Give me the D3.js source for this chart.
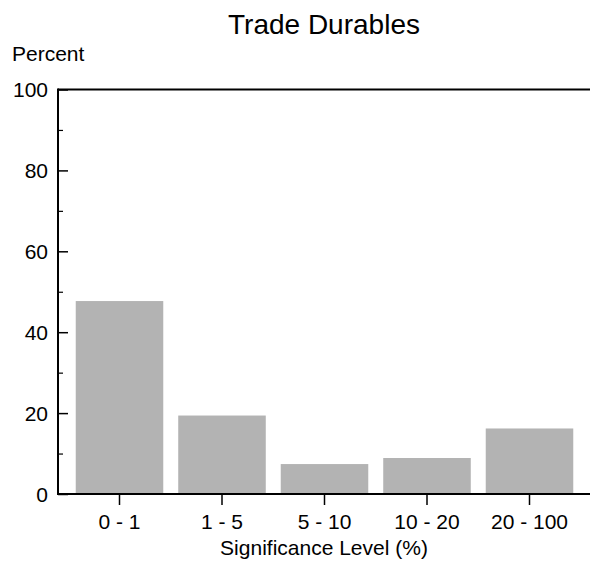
<!DOCTYPE html>
<html><head><meta charset="utf-8">
<script src="https://cdn.jsdelivr.net/npm/d3@7"></script>
<style>body{margin:0;background:#fff}svg{display:block}text{font-family:"Liberation Sans",Arial,sans-serif;fill:#000}</style>
</head><body>
<svg id="c" width="590" height="567"></svg>
<script>
const categories = ["0 - 1","1 - 5","5 - 10","10 - 20","20 - 100"];
const values = [47.7, 19.4, 7.4, 8.9, 16.2];
const majorTicks = [0,20,40,60,80,100];
const minorTicks = [10,30,50,70,90];
const title = "Trade Durables";
const yTitle = "Percent";
const xTitle = "Significance Level (%)";

const svg = d3.select("#c");
const mLeft = 58, mRight = 590, mTop = 89.5, mBottom = 494;
const y = d3.scaleLinear().domain([0,100]).range([mBottom, mTop]);
const x = d3.scaleBand().domain(categories).range([68.25, 580.75]).paddingInner(0.146).paddingOuter(0.073);

svg.append("g").selectAll("rect").data(values).join("rect")
  .attr("x",(d,i)=>x(categories[i])).attr("width",x.bandwidth())
  .attr("y",d=>y(d)).attr("height",d=>mBottom-y(d)).attr("fill","#b3b3b3");

const ya = svg.append("g").attr("transform",`translate(${mLeft},0)`)
  .call(d3.axisLeft(y).tickValues(majorTicks).tickSize(-10).tickPadding(10).tickFormat(d3.format("d")));
ya.select(".domain").remove();
ya.selectAll("line").attr("stroke","#000").attr("stroke-width",1.5);
ya.selectAll("text").attr("font-size",21).attr("font-family","Liberation Sans, Arial, sans-serif").attr("dy","0.35em");

const ym = svg.append("g").attr("transform",`translate(${mLeft},0)`)
  .call(d3.axisLeft(y).tickValues(minorTicks).tickSize(-5).tickFormat(""));
ym.select(".domain").remove();
ym.selectAll("line").attr("stroke","#000").attr("stroke-width",1.2);

const xa = svg.append("g").attr("transform",`translate(0,${mBottom})`)
  .call(d3.axisBottom(x).tickSize(11).tickPadding(9));
xa.select(".domain").remove();
xa.selectAll("line").attr("stroke","#000").attr("stroke-width",1.5);
xa.selectAll("text").attr("font-size",21).attr("font-family","Liberation Sans, Arial, sans-serif");

const frame = svg.append("g").attr("stroke","#000").attr("stroke-width",2).attr("fill","none");
frame.append("line").attr("x1",mLeft).attr("x2",mLeft).attr("y1",mTop-1).attr("y2",mBottom+1);
frame.append("line").attr("x1",mLeft).attr("x2",mRight).attr("y1",mTop).attr("y2",mTop);
frame.append("line").attr("x1",mLeft).attr("x2",mRight).attr("y1",mBottom).attr("y2",mBottom);

svg.append("text").attr("x",(mLeft+mRight)/2).attr("y",34).attr("text-anchor","middle").attr("font-size",28).text(title);
svg.append("text").attr("x",12).attr("y",61).attr("font-size",21).text(yTitle);
svg.append("text").attr("x",(mLeft+mRight)/2).attr("y",555).attr("text-anchor","middle").attr("font-size",21).text(xTitle);
</script>
</body></html>
